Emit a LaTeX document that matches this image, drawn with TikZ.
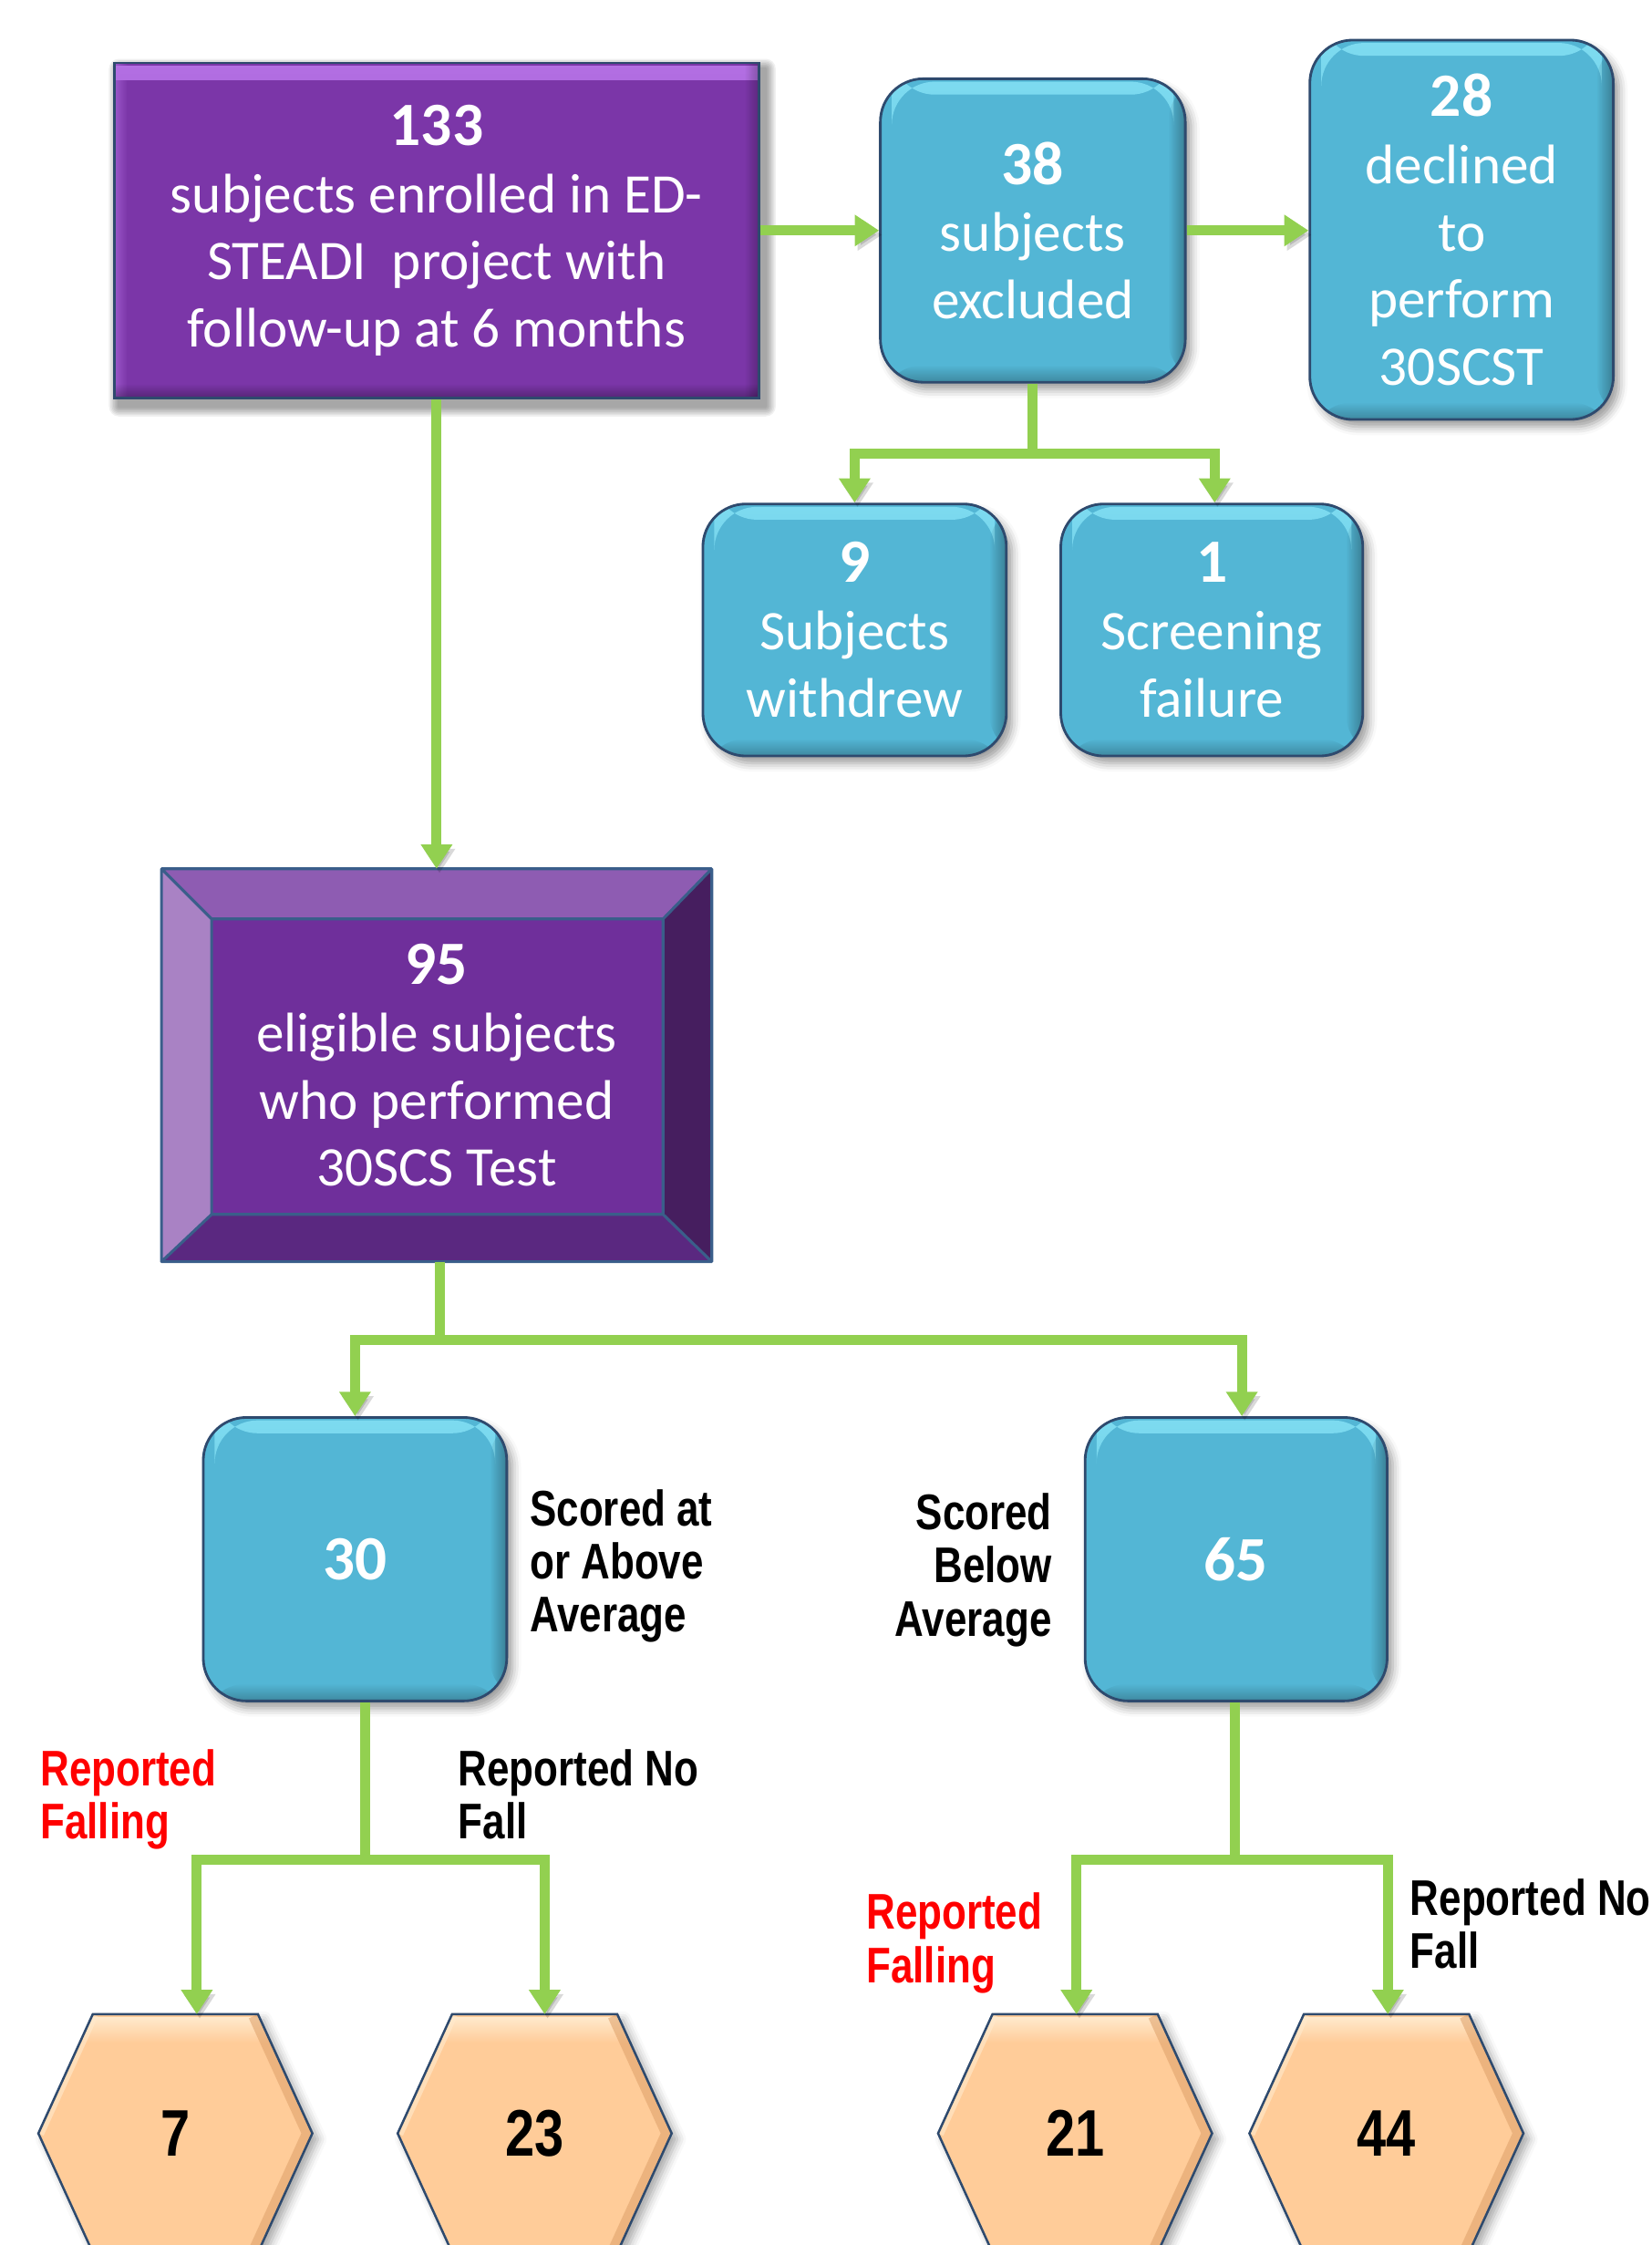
\documentclass[tikz,border=0pt]{standalone}
\usepackage{fontspec}
\setmainfont{Carlito}
\newfontfamily\labfont[FakeStretch=0.8]{Liberation Sans}
\usetikzlibrary{arrows.meta,shadows.blur,calc,fadings}
\pgfdeclarelayer{back}
\pgfdeclarelayer{bg}
\pgfsetlayers{back,bg,main}
\definecolor{bgtop}{RGB}{223,241,250}
\definecolor{bgbot}{RGB}{240,247,252}
\definecolor{purpA}{RGB}{123,54,168}
\definecolor{purphi}{RGB}{180,112,228}
\definecolor{edgeC}{RGB}{46,74,110}
\definecolor{boxblue}{RGB}{83,182,213}
\definecolor{bluehi}{RGB}{140,232,250}
\definecolor{grn}{RGB}{146,208,80}
\definecolor{peach}{RGB}{255,204,153}
\definecolor{peachhi}{RGB}{255,234,205}
\definecolor{peachdk}{RGB}{222,160,105}
\definecolor{redC}{RGB}{255,0,0}
\definecolor{bvTop}{RGB}{142,92,178}
\definecolor{bvLeft}{RGB}{169,130,196}
\definecolor{bvRight}{RGB}{70,30,95}
\definecolor{bvBot}{RGB}{90,40,128}
\definecolor{bvIn}{RGB}{111,47,155}
\definecolor{bvEdge}{RGB}{58,94,138}
\tikzfading[name=tolow, top color=transparent!0, bottom color=transparent!100]
\tikzfading[name=toup, top color=transparent!100, bottom color=transparent!0]
\tikzfading[name=toleft, left color=transparent!100, right color=transparent!0]
\tikzfading[name=toright, left color=transparent!0, right color=transparent!100]
\newcommand{\bignum}[1]{{\bfseries\fontsize{43}{47}\selectfont #1}}
\newcommand{\myhexa}[1]{%
  \path[fill=peach, blur shadow={shadow xshift=4pt,shadow yshift=-4pt,shadow blur radius=6pt,shadow opacity=35}]
    (#1.west) -- ($(#1.north west)+(38,0)$) -- ($(#1.north east)+(-38,0)$) -- (#1.east)
    -- ($(#1.south east)+(-38,0)$) -- ($(#1.south west)+(38,0)$) -- cycle;
  \begin{scope}
    \clip (#1.west) -- ($(#1.north west)+(38,0)$) -- ($(#1.north east)+(-38,0)$) -- (#1.east)
      -- ($(#1.south east)+(-38,0)$) -- ($(#1.south west)+(38,0)$) -- cycle;
    \fill[peachhi, path fading=tolow] ($(#1.north west)+(0,2)$) rectangle ($(#1.north east)+(0,20)$);
    \draw[peachdk, line width=14pt, opacity=0.55] ($(#1.north east)+(-38,0)$) -- (#1.east) -- ($(#1.south east)+(-38,0)$);
    \draw[peachhi, line width=8pt, opacity=0.6] ($(#1.north west)+(38,0)$) -- (#1.west);
  \end{scope}
  \draw[edgeC, line width=1.6pt]
    (#1.west) -- ($(#1.north west)+(38,0)$) -- ($(#1.north east)+(-38,0)$) -- (#1.east)
    -- ($(#1.south east)+(-38,0)$) -- ($(#1.south west)+(38,0)$) -- cycle;
}
\begin{document}
\begin{tikzpicture}[x=1pt,y=-1pt,
  conn/.style={draw=grn, line width=7pt, -{Triangle[width=21pt,length=17pt]},
    preaction={draw=black, opacity=0.15, transform canvas={xshift=2pt,yshift=-3pt}}},
  bluebox/.style={rectangle, rounded corners=30pt, draw=edgeC, line width=1.8pt, fill=boxblue,
    text=white, align=center, inner sep=0pt, font=\fontsize{39}{47}\selectfont,
    blur shadow={shadow xshift=4pt,shadow yshift=-5pt,shadow blur radius=6pt,shadow opacity=40},
    path picture={
      \fill[bluehi, opacity=0.75, path fading=tolow] ($(path picture bounding box.north west)+(8,2)$) rectangle ($(path picture bounding box.north east)+(-8,11)$);
      \fill[black, opacity=0.3, path fading=toleft] ($(path picture bounding box.north east)+(-12,0)$) rectangle (path picture bounding box.south east);
      \fill[black, opacity=0.25, path fading=toup] ($(path picture bounding box.south west)+(0,-12)$) rectangle (path picture bounding box.south east);
    }},
  purpbox/.style={rectangle, draw=edgeC, line width=1.8pt, fill=purpA,
    text=white, align=center, inner sep=0pt, font=\fontsize{39}{47}\selectfont,
    path picture={
      \fill[purphi, path fading=tolow] ($(path picture bounding box.north west)+(0,2)$) rectangle ($(path picture bounding box.north east)+(0,12)$);
      \fill[purphi, opacity=0.5, path fading=toright] ($(path picture bounding box.north west)+(1,0)$) rectangle ($(path picture bounding box.south west)+(9,0)$);
      \fill[black, opacity=0.25, path fading=toleft] ($(path picture bounding box.north east)+(-10,0)$) rectangle (path picture bounding box.south east);
      \fill[black, opacity=0.3, path fading=toup] ($(path picture bounding box.south west)+(0,-10)$) rectangle (path picture bounding box.south east);
    }},
  bevelbox/.style={rectangle, text=white, align=center, inner sep=0pt, font=\fontsize{39}{47}\selectfont},
  hexnode/.style={rectangle, inner sep=0pt, minimum width=191pt, minimum height=166pt,
    font=\labfont\bfseries\fontsize{46}{47}\selectfont, text=black},
  lab/.style={inner sep=0pt, font=\labfont\bfseries\fontsize{35}{37}\selectfont, text=black}
]
\useasboundingbox (0,0) rectangle (1154,1568);
\begin{pgfonlayer}{back}
  \shade[top color=bgtop, bottom color=bgbot] (0,0) rectangle (1154,1568);
\end{pgfonlayer}
% invisible dummy (outside the page) so that the first shadow set-up is absorbed
\path[fill=white, blur shadow={shadow opacity=0}] (-600,-600) rectangle (-590,-590);

% boxes
\node[purpbox, minimum width=450pt, minimum height=234pt] (A) at (305,161)
  {\bignum{133}\\subjects enrolled in ED-\\STEADI\ \ project with\\follow-up at 6 months};
\node[bluebox, minimum width=213pt, minimum height=212pt] (B) at (721.5,161)
  {\bignum{38}\\subjects\\excluded};
\node[bluebox, minimum width=212pt, minimum height=265pt] (C) at (1021,160.5)
  {\bignum{28}\\declined\\to\\perform\\30SCST};
\node[bluebox, minimum width=212pt, minimum height=176pt] (D) at (597,440)
  {\bignum{9}\\Subjects\\withdrew};
\node[bluebox, minimum width=211pt, minimum height=176pt] (E) at (846.5,440)
  {\bignum{1}\\Screening\\failure};
\node[bevelbox, minimum width=384pt, minimum height=274pt] (F) at (305,744)
  {\bignum{95}\\eligible subjects\\who performed\\30SCS Test};
\node[bluebox, minimum width=212pt, minimum height=198pt] (G) at (248,1089)
  {{\bfseries\fontsize{44}{47}\selectfont 30}};
\node[bluebox, minimum width=211pt, minimum height=198pt] (H) at (863.5,1089)
  {{\bfseries\fontsize{44}{47}\selectfont 65}};

\node[hexnode] (h7) at (122.5,1490) {7};
\node[hexnode] (h23) at (373.5,1490) {23};
\node[hexnode] (h21) at (751,1490) {21};
\node[hexnode] (h44) at (968.5,1490) {44};

\begin{pgfonlayer}{bg}
  % soft shadow of box A
  \foreach \r in {7,6,5,4,3,2,1}
    \fill[black, opacity=0.06, rounded corners=\r pt]
      ($(A.north west)+(4-\r,5-\r)$) rectangle ($(A.south east)+(4+\r,5+\r)$);
  % bevel box F
  \coordinate (fi1) at ($(F.north west)+(35,35)$);
  \coordinate (fi2) at ($(F.north east)+(-34,35)$);
  \coordinate (fi3) at ($(F.south east)+(-34,-33)$);
  \coordinate (fi4) at ($(F.south west)+(35,-33)$);
  \fill[bvTop] (F.north west) -- (F.north east) -- (fi2) -- (fi1) -- cycle;
  \fill[bvLeft] (F.north west) -- (fi1) -- (fi4) -- (F.south west) -- cycle;
  \fill[bvRight] (F.north east) -- (F.south east) -- (fi3) -- (fi2) -- cycle;
  \fill[bvBot] (F.south west) -- (fi4) -- (fi3) -- (F.south east) -- cycle;
  \fill[bvIn] (fi1) rectangle (fi3);
  \draw[bvEdge, line width=2pt, line join=round]
    (F.north west) rectangle (F.south east)
    (fi1) rectangle (fi3)
    (F.north west) -- (fi1) (F.north east) -- (fi2)
    (F.south east) -- (fi3) (F.south west) -- (fi4);
  % hexagons
  \myhexa{h7}
  \myhexa{h23}
  \myhexa{h21}
  \myhexa{h44}
\end{pgfonlayer}

% labels
\node[lab, anchor=north west, align=left] (s1) at (370,1040) {Scored at\\or Above\\Average};
\node[lab, anchor=north east, align=right] (s2) at (735,1043) {Scored\\Below\\Average};
\node[lab, text=redC, anchor=north west, align=left] (l1) at (28,1222) {Reported\\Falling};
\node[lab, anchor=north west, align=left] (l2) at (320,1222) {Reported No\\Fall};
\node[lab, text=redC, anchor=north west, align=left] (l3) at (605,1322) {Reported\\Falling};
\node[lab, anchor=north west, align=left] (l4) at (985,1312) {Reported No\\Fall};

% connectors
\draw[conn] (A.east) -- (B.west);
\draw[conn] (B.east) -- (B.east -| C.west);
\draw[conn] (B.south) -- ++(0,49) -| (D.north);
\draw[conn] (B.south) -- ++(0,49) -| ([xshift=2pt]E.north);
\draw[conn] (A.south) -- (F.north);
\draw[conn] ([xshift=2pt]F.south) -- ++(0,55) -| (G.north);
\draw[conn] ([xshift=2pt]F.south) -- ++(0,55) -| ([xshift=4pt]H.north);
\draw[conn] ([xshift=7pt]G.south) -- ++(0,110) -| ([xshift=15pt]h7.north);
\draw[conn] ([xshift=7pt]G.south) -- ++(0,110) -| ([xshift=7pt]h23.north);
\draw[conn] ([xshift=-1pt]H.south) -- ++(0,110) -| ([xshift=1pt]h21.north);
\draw[conn] ([xshift=-1pt]H.south) -- ++(0,110) -| ([xshift=1pt]h44.north);
\end{tikzpicture}
\end{document}
